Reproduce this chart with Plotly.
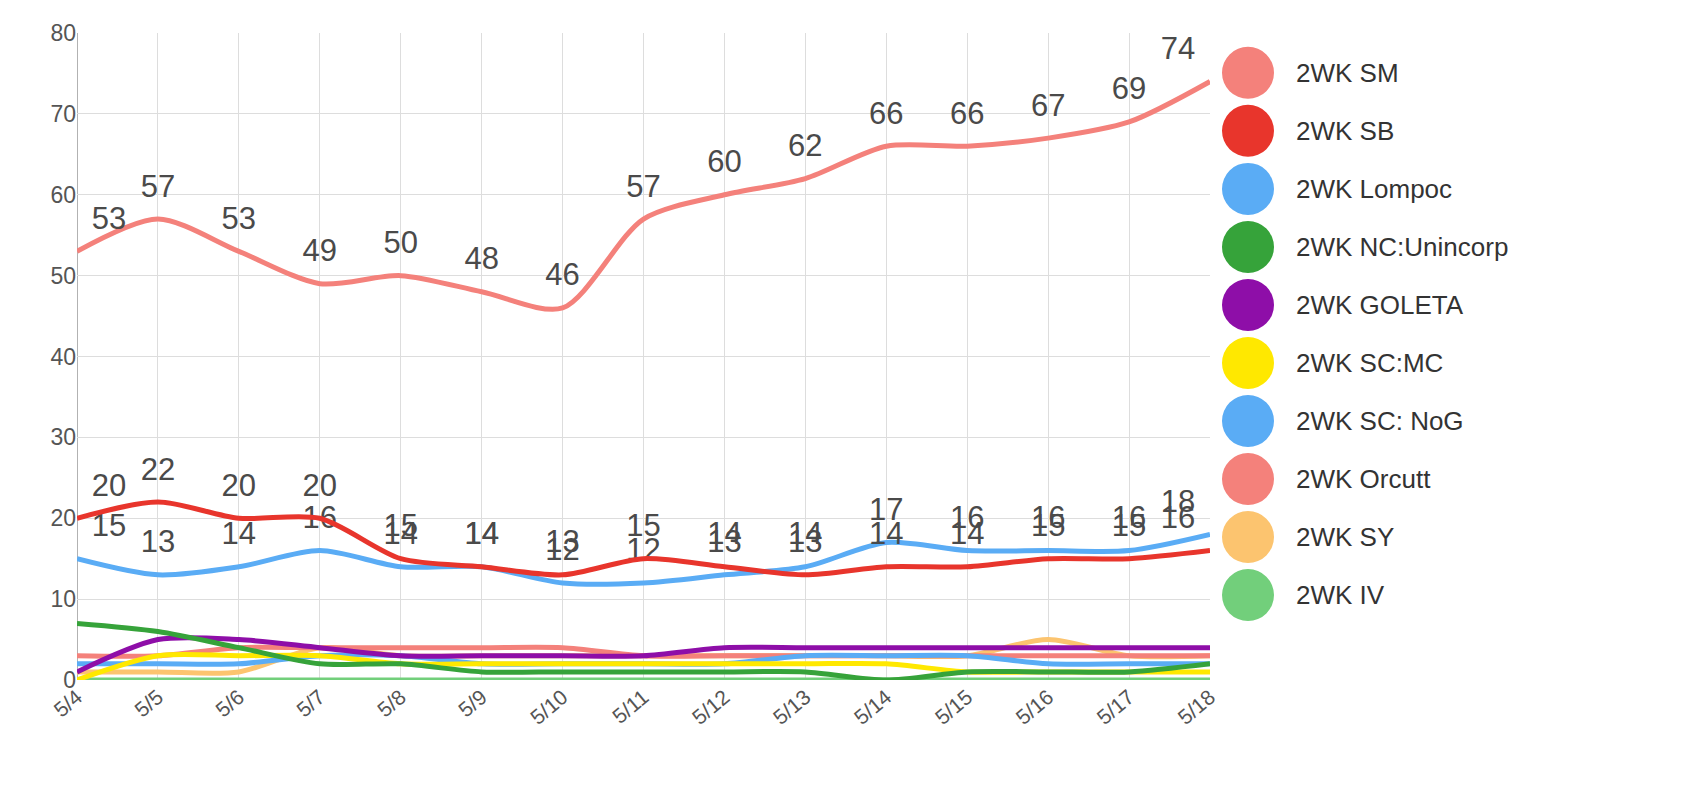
import plotly.graph_objects as go

dates = ["5/4", "5/5", "5/6", "5/7", "5/8", "5/9", "5/10", "5/11", "5/12",
         "5/13", "5/14", "5/15", "5/16", "5/17", "5/18"]

sm = [53, 57, 53, 49, 50, 48, 46, 57, 60, 62, 66, 66, 67, 69, 74]
sb = [20, 22, 20, 20, 15, 14, 13, 15, 14, 13, 14, 14, 15, 15, 16]
lompoc = [15, 13, 14, 16, 14, 14, 12, 12, 13, 14, 17, 16, 16, 16, 18]
nc_unincorp = [7, 6, 4, 2, 2, 1, 1, 1, 1, 1, 0, 1, 1, 1, 2]
goleta = [1, 5, 5, 4, 3, 3, 3, 3, 4, 4, 4, 4, 4, 4, 4]
sc_mc = [0, 3, 3, 3, 2, 2, 2, 2, 2, 2, 2, 1, 1, 1, 1]
sc_nog = [2, 2, 2, 3, 3, 2, 2, 2, 2, 3, 3, 3, 2, 2, 2]
orcutt = [3, 3, 4, 4, 4, 4, 4, 3, 3, 3, 3, 3, 3, 3, 3]
sy = [1, 1, 1, 4, 3, 3, 3, 3, 3, 3, 3, 3, 5, 3, 3]
iv = [0, 0, 0, 0, 0, 0, 0, 0, 0, 0, 0, 0, 0, 0, 0]

series_names = ["2WK SM", "2WK SB", "2WK Lompoc", "2WK NC:Unincorp", "2WK GOLETA",
                "2WK SC:MC", "2WK SC: NoG", "2WK Orcutt", "2WK SY", "2WK IV"]
series_values = [sm, sb, lompoc, nc_unincorp, goleta, sc_mc, sc_nog, orcutt, sy, iv]
series_colors = ["#f4817b", "#e8352c", "#5aacf5", "#36a33a", "#8e0ea8",
                 "#ffe800", "#5aacf5", "#f4817b", "#fcc46f", "#72cf7b"]
labeled = [True, True, True, False, False, False, False, False, False, False]

y_ticks = [0, 10, 20, 30, 40, 50, 60, 70, 80]

xi = list(range(len(dates)))
FONT = "Liberation Sans, Arial, sans-serif"

positions = ["top right"] + ["top center"] * (len(dates) - 2) + ["top left"]

fig = go.Figure()
order = list(range(len(series_names)))[::-1]
for i in order:
    vals = series_values[i]
    if labeled[i]:
        fig.add_trace(go.Scatter(
            x=xi, y=vals, name=series_names[i],
            mode="lines+markers+text",
            text=[str(v) for v in vals],
            textposition=positions,
            textfont=dict(family=FONT, size=31, color="#4a4a4a"),
            marker=dict(size=22, opacity=0, color=series_colors[i]),
            line=dict(color=series_colors[i], width=5, shape="spline", smoothing=0.8),
            showlegend=False, cliponaxis=False, hoverinfo="x+y",
        ))
    else:
        fig.add_trace(go.Scatter(
            x=xi, y=vals, name=series_names[i], mode="lines",
            line=dict(color=series_colors[i], width=5, shape="spline", smoothing=0.8),
            showlegend=False, cliponaxis=False,
        ))

# plot area geometry in pixels (for legend placement)
L, R, T, B = 69, 1202, 22, 672
W, H = R - L, B - T

shapes = []
annotations = []
for k, name in enumerate(series_names):
    yc = 62 + k * 58.3
    py = (B - yc) / H
    px = (1240 - L) / W
    shapes.append(dict(type="circle", xref="paper", yref="paper",
                       xsizemode="pixel", ysizemode="pixel",
                       xanchor=px, yanchor=py, x0=-26, x1=26, y0=-26, y1=26,
                       fillcolor=series_colors[k], line=dict(width=0)))
    annotations.append(dict(xref="paper", yref="paper", x=(1286 - L) / W, y=py,
                            xanchor="left", yanchor="middle", showarrow=False,
                            text=name, font=dict(family=FONT, size=26, color="#333333")))

fig.update_layout(
    width=1705, height=798,
    margin=dict(l=L, r=1705 - R, t=T, b=798 - B),
    plot_bgcolor="white", paper_bgcolor="white",
    shapes=shapes, annotations=annotations,
    showlegend=False,
    xaxis=dict(range=[0, len(dates) - 1], tickmode="array", tickvals=xi, ticktext=dates,
               tickangle=-40, showgrid=True, gridcolor="#dddddd", gridwidth=1,
               showline=False, zeroline=False, ticks="",
               tickfont=dict(family=FONT, size=21, color="#555555")),
    yaxis=dict(range=[0, 80], tickmode="array", tickvals=y_ticks,
               showgrid=True, gridcolor="#dddddd", gridwidth=1,
               zeroline=False, showline=False, ticks="",
               tickfont=dict(family=FONT, size=23, color="#555555")),
)
fig.add_vline(x=0, line=dict(color="#999999", width=1.5), layer="below")

fig.write_html("out.html")
